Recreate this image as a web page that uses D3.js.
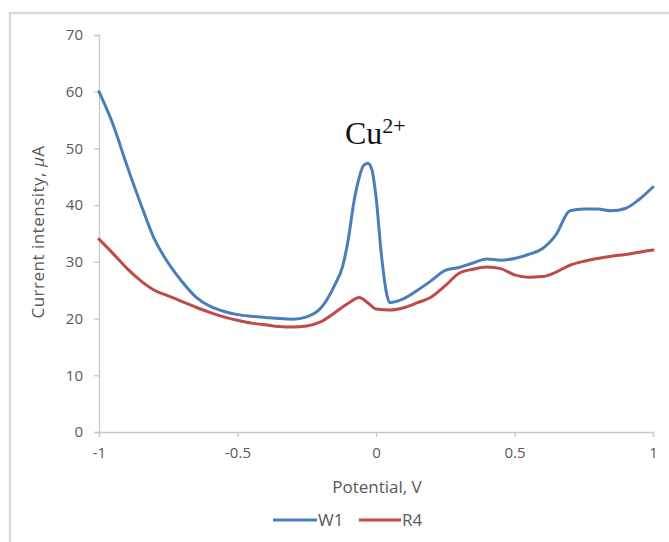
<!DOCTYPE html>
<html><head><meta charset="utf-8">
<script src="https://cdn.jsdelivr.net/npm/d3@7"></script>
<style>body{margin:0;background:#fff}svg{display:block}</style>
</head><body><div id="chart"></div>
<script>
const potential = [-1.00,-0.95,-0.90,-0.85,-0.80,-0.75,-0.70,-0.65,-0.60,-0.55,-0.50,-0.45,-0.40,-0.35,-0.30,-0.25,-0.20,-0.15,-0.12,-0.10,-0.08,-0.06,-0.045,-0.03,-0.015,0.00,0.02,0.04,0.05,0.10,0.15,0.20,0.25,0.30,0.35,0.40,0.45,0.50,0.55,0.60,0.65,0.70,0.75,0.80,0.85,0.90,0.95,1.00];
const w1 = [60.0,54.3,47.1,40.3,34.0,29.8,26.5,23.8,22.2,21.3,20.7,20.4,20.2,20.0,19.9,20.3,21.8,25.8,29.3,34.0,40.5,45.0,47.0,47.4,46.3,41.5,31.0,24.0,22.8,23.5,25.0,26.7,28.5,29.0,29.8,30.5,30.3,30.6,31.3,32.3,34.8,39.0,39.3,39.3,39.0,39.4,41.0,43.2];
const potentialR = [-1.00,-0.95,-0.90,-0.85,-0.80,-0.75,-0.70,-0.65,-0.60,-0.55,-0.50,-0.45,-0.40,-0.35,-0.30,-0.25,-0.20,-0.15,-0.10,-0.06,-0.03,0.00,0.05,0.10,0.15,0.20,0.25,0.30,0.35,0.40,0.45,0.50,0.55,0.60,0.65,0.70,0.75,0.80,0.85,0.90,0.95,1.00];
const r4 = [34.0,31.5,28.9,26.7,25.0,24.0,23.0,22.0,21.1,20.3,19.7,19.2,18.9,18.6,18.5,18.7,19.4,21.0,22.7,23.7,22.8,21.7,21.5,21.9,22.8,23.8,25.8,28.0,28.7,29.1,28.8,27.7,27.3,27.4,28.2,29.4,30.1,30.6,31.0,31.3,31.7,32.1];
const xTicks = [-1,-0.5,0,0.5,1];
const xTickLabels = ["-1","-0.5","0","0.5","1"];
const yTicks = [0,10,20,30,40,50,60,70];
const seriesNames = ["W1","R4"];
const seriesColors = ["#4a7ebb","#be4b48"];

const W = 669, H = 542;
const svg = d3.select("#chart").append("svg").attr("width", W).attr("height", H);

// outer frame
svg.append("path").attr("d", "M10,542V13H669").attr("fill","none").attr("stroke","#dadada").attr("stroke-width",2.5);

const x = d3.scaleLinear().domain([-1,1]).range([99,653]);
const y = d3.scaleLinear().domain([0,70]).range([432,35]);

const font = "'Open Sans', sans-serif";
const axisColor = "#c8c8c8";
const textColor = "#595959";

const yAxis = svg.append("g").attr("transform","translate(99,0)")
  .call(d3.axisLeft(y).tickValues(yTicks).tickSize(5).tickPadding(11).tickFormat(d3.format("d")));
const xAxis = svg.append("g").attr("transform","translate(0,432)")
  .call(d3.axisBottom(x).tickValues(xTicks).tickSize(5).tickPadding(10).tickFormat((d,i)=>xTickLabels[i]));
[yAxis,xAxis].forEach(a=>{
  a.select(".domain").attr("stroke",axisColor).attr("stroke-width",1.3);
  a.selectAll(".tick line").attr("stroke",axisColor).attr("stroke-width",1.3);
  a.selectAll(".tick text").attr("fill",textColor).style("font-family",font).style("font-size","15px");
});

const line = d3.line().x(d=>x(d[0])).y(d=>y(d[1])).curve(d3.curveMonotoneX);
const sets = [potential.map((p,i)=>[p,w1[i]]), potentialR.map((p,i)=>[p,r4[i]])];
[1,0].forEach(k=>{
  svg.append("path").datum(sets[k]).attr("d",line).attr("fill","none")
    .attr("stroke",seriesColors[k]).attr("stroke-width",3).attr("stroke-linejoin","round").attr("stroke-linecap","round");
});

// annotation
const ann = svg.append("text").attr("x",345).attr("y",144).attr("fill","#111")
  .style("font-family","'Liberation Serif', 'Times New Roman', serif").style("font-size","32px");
ann.append("tspan").text("Cu");
ann.append("tspan").attr("dy",-11).style("font-size","22px").text("2+");

// axis titles
svg.append("text").attr("x",377).attr("y",493).attr("text-anchor","middle").attr("fill",textColor)
  .style("font-family",font).style("font-size","17px").text("Potential, V");
const yt = svg.append("text").attr("transform","translate(44,232) rotate(-90)").attr("text-anchor","middle").attr("fill",textColor)
  .style("font-family",font).style("font-size","17px").style("letter-spacing","0.5px");
yt.append("tspan").text("Current intensity, ");
yt.append("tspan").style("font-style","italic").text("μ");
yt.append("tspan").text("A");

// legend
const leg = [{x1:273,x2:317,tx:318},{x1:359,x2:401,tx:402}];
leg.forEach((l,i)=>{
  svg.append("line").attr("x1",l.x1).attr("x2",l.x2).attr("y1",520).attr("y2",520)
    .attr("stroke",seriesColors[i]).attr("stroke-width",3);
  svg.append("text").attr("x",l.tx).attr("y",526).attr("fill",textColor)
    .style("font-family",font).style("font-size","17px").text(seriesNames[i]);
});
</script></body></html>
